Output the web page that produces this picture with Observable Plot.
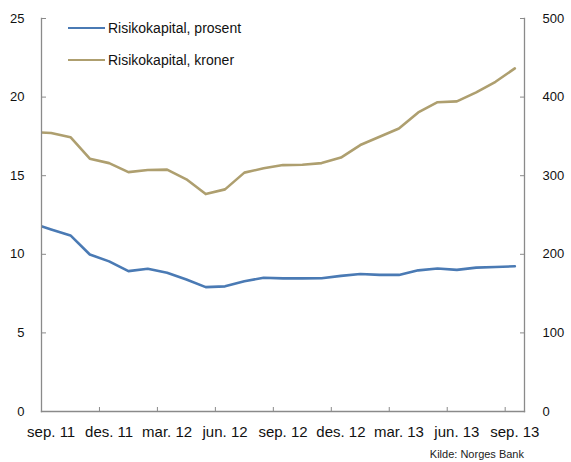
<!DOCTYPE html>
<html><head><meta charset="utf-8">
<script src="https://cdn.jsdelivr.net/npm/d3@7"></script>
<script src="https://cdn.jsdelivr.net/npm/@observablehq/plot@0.6"></script>
<style>
body{margin:0;background:#fff;font-family:"Liberation Sans",Arial,sans-serif;color:#111;}
#wrap{position:relative;width:571px;height:462px;overflow:hidden;}
#wrap svg{position:absolute;left:0;top:0;}
.leg{position:absolute;left:68px;font-size:14px;line-height:16px;display:flex;align-items:center;white-space:nowrap;}
.leg .sw{display:inline-block;width:37px;height:0;border-top:2.5px solid;margin-right:3px;}
#src{position:absolute;right:47px;top:448px;font-size:11px;line-height:13px;color:#222;}
</style></head><body><div id="wrap"></div>
<script>
// Months (aug. 11 lies just before the axis start and is clipped by the frame)
const months = ["aug. 11","sep. 11","okt. 11","nov. 11","des. 11","jan. 12","feb. 12","mar. 12","apr. 12","mai. 12","jun. 12","jul. 12","aug. 12","sep. 12","okt. 12","nov. 12","des. 12","jan. 13","feb. 13","mar. 13","apr. 13","mai. 13","jun. 13","jul. 13","aug. 13","sep. 13"];
// Blue series, left axis (prosent)
const prosent = [11.97,11.58,11.2,9.99,9.55,8.93,9.08,8.83,8.4,7.91,7.96,8.29,8.51,8.47,8.47,8.48,8.63,8.75,8.69,8.69,8.98,9.1,9.01,9.15,9.19,9.24];
// Tan series, right axis (kroner)
const kroner = [355.5,354.3,349,321.7,316,304.6,307.2,307.7,295.4,276.6,282.6,303.9,309.4,313.5,314,316,323,339,349.5,360,380.5,393.5,394.5,406,419.5,436.5];
const seriesNames = ["Risikokapital, prosent","Risikokapital, kroner"];
const seriesColors = ["#4a7ab4","#ae9f6f"];
const xTickLabels = ["sep. 11","des. 11","mar. 12","jun. 12","sep. 12","des. 12","mar. 13","jun. 13","sep. 13"];
const leftTicks = [0,5,10,15,20,25];
const rightTicks = [0,100,200,300,400,500];
const sourceText = "Kilde: Norges Bank";

const first = months.indexOf(xTickLabels[0]);
const pos = m => months.indexOf(m) - first;
const ratio = rightTicks[rightTicks.length-1] / leftTicks[leftTicks.length-1];
const blue = months.map((m,i) => ({t: pos(m), v: prosent[i]}));
const tan = months.map((m,i) => ({t: pos(m), v: kroner[i] / ratio}));
const labelPos = xTickLabels.map(pos);
const boundaryPos = labelPos.slice(1).map(p => p - 0.5);
const lastPos = labelPos[labelPos.length-1];
const axisColor = "#8a8a8a";

const chart = Plot.plot({
  width: 571, height: 462,
  marginLeft: 41, marginRight: 47, marginTop: 18, marginBottom: 51,
  style: {fontFamily: "'Liberation Sans', Arial, sans-serif", fontSize: "14px", color: "#111", background: "transparent"},
  x: {type: "linear", domain: [labelPos[0]-0.5, lastPos+0.5]},
  y: {domain: [leftTicks[0], leftTicks[leftTicks.length-1]]},
  marks: [
    Plot.lineY(tan, {x: "t", y: "v", stroke: seriesColors[1], strokeWidth: 2.6, clip: true}),
    Plot.lineY(blue, {x: "t", y: "v", stroke: seriesColors[0], strokeWidth: 2.6, clip: true}),
    Plot.frame({anchor: "left", stroke: axisColor, strokeWidth: 1.3}),
    Plot.frame({anchor: "right", stroke: axisColor, strokeWidth: 1.3}),
    Plot.frame({anchor: "bottom", stroke: axisColor, strokeWidth: 1.3}),
    Plot.axisY({anchor: "left", ticks: leftTicks, tickSize: -5, tickPadding: 22, stroke: axisColor, label: null, fontSize: 13}),
    Plot.axisY({anchor: "right", ticks: leftTicks, tickSize: -5, tickPadding: 23, stroke: axisColor, label: null, fontSize: 13, tickFormat: d => String(d * ratio)}),
    Plot.axisX({anchor: "bottom", ticks: labelPos, tickSize: 0, tickPadding: 15, label: null, fontSize: 15, tickFormat: d => xTickLabels[labelPos.indexOf(d)]}),
    Plot.axisX({anchor: "bottom", ticks: boundaryPos, tickSize: -4, stroke: axisColor, label: null, tickFormat: () => ""})
  ]
});
const wrap = document.getElementById("wrap");
wrap.appendChild(chart);
seriesNames.forEach((name, i) => {
  const d = document.createElement("div");
  d.className = "leg";
  d.style.top = (20 + i * 32) + "px";
  d.innerHTML = `<span class="sw" style="border-color:${seriesColors[i]}"></span><span>${name}</span>`;
  wrap.appendChild(d);
});
const s = document.createElement("div");
s.id = "src"; s.textContent = sourceText;
wrap.appendChild(s);
</script></body></html>
